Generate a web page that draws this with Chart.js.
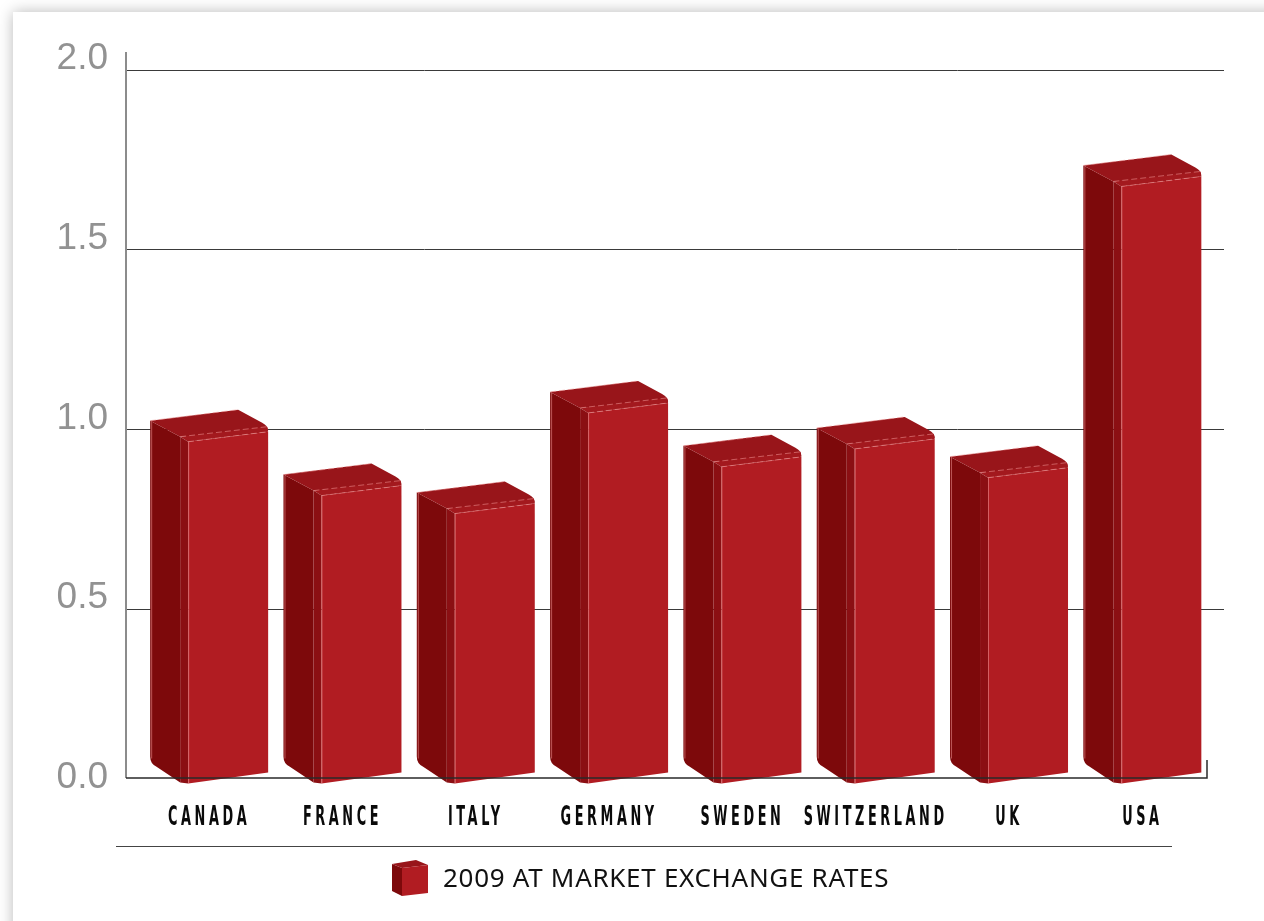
<!DOCTYPE html>
<html>
<head>
<meta charset="utf-8">
<script src="https://cdn.jsdelivr.net/npm/chart.js@4/dist/chart.umd.min.js"></script>
<style>
  html, body { margin: 0; padding: 0; background: #fff; overflow: hidden; }
  #card { position: absolute; left: 13px; top: 12px; width: 1400px; height: 1100px; background: #fff;
          box-shadow: 0 0 14px rgba(0,0,0,0.28); }
  #chart { position: absolute; left: 0; top: 0; }
</style>
</head>
<body>
<div id="card"></div>
<canvas id="chart" width="1264" height="921"></canvas>
<script>
// data
var countries = ["CANADA", "FRANCE", "ITALY", "GERMANY", "SWEDEN", "SWITZERLAND", "UK", "USA"];
var values = [0.98, 0.83, 0.78, 1.06, 0.91, 0.96, 0.88, 1.69];
var yTickValues = [0, 0.5, 1.0, 1.5, 2.0];
var seriesLabel = "2009 AT MARKET EXCHANGE RATES";

var RED_FRONT = "#b11c22";
var RED_STRIP = "#8b0f13";
var RED_SIDE = "#7d090b";
var RED_TOP = "#98151a";
var RED_BAND = "#a3191e";

function drawBox(ctx, el) {
  var w = el.width, L = el.x - w / 2, R = el.x + w / 2;
  var y = el.y, B = el.base - 10;
  var D = 30, S = 8;

  // side face
  ctx.fillStyle = RED_SIDE;
  ctx.beginPath();
  ctx.moveTo(L - D, y - 16);
  ctx.lineTo(L, y);
  ctx.lineTo(L, B + 4);
  ctx.lineTo(L - D + 6, B - 12);
  ctx.quadraticCurveTo(L - D, B - 15, L - D, B - 22);
  ctx.closePath();
  ctx.fill();

  // top face
  ctx.fillStyle = RED_TOP;
  ctx.beginPath();
  ctx.moveTo(L - D, y - 16);
  ctx.lineTo(R - D, y - 27);
  ctx.lineTo(R - 6, y - 14);
  ctx.quadraticCurveTo(R, y - 11, R, y - 6);
  ctx.lineTo(L, y);
  ctx.closePath();
  ctx.fill();

  // bevel band on the front top edge
  ctx.fillStyle = RED_BAND;
  ctx.beginPath();
  ctx.moveTo(L, y);
  ctx.lineTo(R - 1, y - 10);
  ctx.lineTo(R, y - 5);
  ctx.lineTo(L + S, y + 5);
  ctx.closePath();
  ctx.fill();

  // strip
  ctx.fillStyle = RED_STRIP;
  ctx.beginPath();
  ctx.moveTo(L, y);
  ctx.lineTo(L + S, y + 5);
  ctx.lineTo(L + S, B + 5);
  ctx.lineTo(L, B + 4);
  ctx.closePath();
  ctx.fill();

  // front face
  ctx.fillStyle = RED_FRONT;
  ctx.beginPath();
  ctx.moveTo(L + S, y + 5);
  ctx.lineTo(R, y - 5);
  ctx.lineTo(R, B - 6);
  ctx.lineTo(L + S, B + 5);
  ctx.closePath();
  ctx.fill();

  // highlights
  ctx.strokeStyle = "rgba(240,150,150,0.55)";
  ctx.lineWidth = 1;
  ctx.beginPath();
  ctx.moveTo(L - D + 1.5, y - 15);
  ctx.lineTo(L - D + 1.5, B - 20);
  ctx.moveTo(L + S + 0.5, y + 5);
  ctx.lineTo(L + S + 0.5, B + 5);
  ctx.stroke();
  ctx.setLineDash([6, 3]);
  ctx.beginPath();
  ctx.moveTo(L, y);
  ctx.lineTo(R - 1, y - 10);
  ctx.moveTo(L + S, y + 5);
  ctx.lineTo(R, y - 5);
  ctx.moveTo(L - D, y - 16);
  ctx.lineTo(R - D, y - 27);
  ctx.stroke();
  ctx.setLineDash([]);
}

function drawCube(ctx, x, y) {
  ctx.fillStyle = RED_SIDE;
  ctx.beginPath();
  ctx.moveTo(x, y + 4); ctx.lineTo(x + 10, y + 8); ctx.lineTo(x + 10, y + 36); ctx.lineTo(x, y + 31);
  ctx.closePath(); ctx.fill();
  ctx.fillStyle = RED_TOP;
  ctx.beginPath();
  ctx.moveTo(x, y + 4); ctx.lineTo(x + 24, y); ctx.lineTo(x + 36, y + 5); ctx.lineTo(x + 10, y + 8);
  ctx.closePath(); ctx.fill();
  ctx.fillStyle = RED_FRONT;
  ctx.beginPath();
  ctx.moveTo(x + 10, y + 8); ctx.lineTo(x + 36, y + 5); ctx.lineTo(x + 36, y + 33); ctx.lineTo(x + 10, y + 36);
  ctx.closePath(); ctx.fill();
}

var boxPlugin = {
  id: "boxes",
  afterDatasetsDraw: function(chart) {
    var ctx = chart.ctx;
    var area = chart.chartArea;
    var meta = chart.getDatasetMeta(0);
    ctx.save();
    // axis lines
    var axX = area.left - 31.5;
    ctx.strokeStyle = "#8c8c8c";
    ctx.lineWidth = 2;
    ctx.beginPath();
    ctx.moveTo(axX, area.top - 18);
    ctx.lineTo(axX, area.bottom - 11);
    ctx.stroke();

    meta.data.forEach(function(el) { drawBox(ctx, el); });

    ctx.strokeStyle = "#2a2a2a";
    ctx.lineWidth = 1.5;
    ctx.beginPath();
    ctx.moveTo(axX, area.bottom - 11);
    ctx.lineTo(area.right - 17, area.bottom - 11);
    ctx.lineTo(area.right - 17, area.bottom - 29);
    ctx.stroke();

    // category labels
    ctx.fillStyle = "#0a0a0a";
    ctx.font = "bold 26px 'DejaVu Sans Condensed', 'DejaVu Sans', sans-serif";
    ctx.textAlign = "center";
    ctx.textBaseline = "middle";
    meta.data.forEach(function(el, i) {
      ctx.save();
      ctx.translate(el.x - 17 + 2, area.bottom + 29);
      ctx.scale(0.55, 1);
      ctx.letterSpacing = "6.5px";
      ctx.fillText(chart.data.labels[i], 0, 0);
      ctx.restore();
    });

    // legend
    ctx.strokeStyle = "#444";
    ctx.lineWidth = 1;
    ctx.beginPath();
    ctx.moveTo(116, area.bottom + 57.5);
    ctx.lineTo(1172, area.bottom + 57.5);
    ctx.stroke();
    drawCube(ctx, 392, area.bottom + 71);
    ctx.fillStyle = "#111";
    ctx.font = "26px 'Noto Sans', sans-serif";
    ctx.textAlign = "left";
    ctx.letterSpacing = "0.7px";
    ctx.fillText(chart.data.datasets[0].label, 443, area.bottom + 91);
    ctx.restore();
  }
};

new Chart(document.getElementById("chart"), {
  type: "bar",
  data: {
    labels: countries,
    datasets: [{
      label: seriesLabel,
      data: values,
      backgroundColor: "rgba(0,0,0,0)",
      borderWidth: 0,
      barPercentage: 0.66,
      categoryPercentage: 1
    }]
  },
  options: {
    responsive: false,
    animation: false,
    events: [],
    layout: { padding: { left: 0, right: 40, top: 70, bottom: 132 } },
    plugins: { legend: { display: false }, tooltip: { enabled: false } },
    scales: {
      x: { display: false },
      y: {
        min: 0,
        max: 2,
        afterFit: function(scale) { scale.width = 157.5; },
        afterBuildTicks: function(scale) {
          scale.ticks = yTickValues.map(function(v) { return { value: v }; });
        },
        border: { display: false },
        grid: {
          color: function(c) { return c.tick && c.tick.value === 0 ? "rgba(0,0,0,0)" : "#3a3a3a"; },
          lineWidth: 1,
          tickLength: 31
        },
        ticks: {
          padding: 18.5,
          labelOffset: -11,
          color: "#929292",
          font: { family: "'Liberation Sans', sans-serif", size: 37 },
          callback: function(v) { return Number(v).toFixed(1); }
        }
      }
    }
  },
  plugins: [boxPlugin]
});
</script>
</body>
</html>
